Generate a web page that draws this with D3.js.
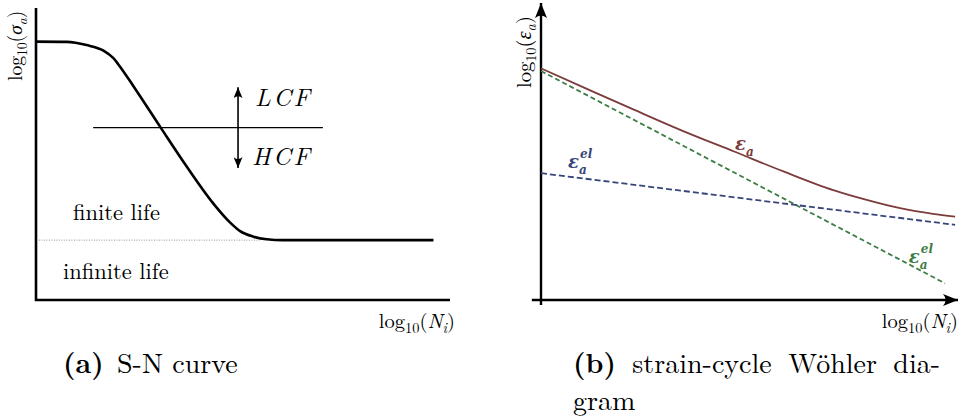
<!DOCTYPE html>
<html>
<head>
<meta charset="utf-8">
<script src="https://cdn.jsdelivr.net/npm/d3@7"></script>
</head>
<body style="margin:0;background:#fff">
<svg id="chart" width="960" height="418"></svg>
<script>
// ---- data (arbitrary log units) ----

// (a) S-N curve: log10(N) vs log10(sigma_a)
const snLogN = [0, 0.74, 1.22, 1.63, 1.87, 2.03, 2.35, 3.0, 3.64, 4.28, 4.69, 4.93, 5.25, 5.57, 5.97, 9.6];
const snLogS = [8.85, 8.84, 8.73, 8.54, 8.28, 7.99, 7.33, 5.93, 4.57, 3.31, 2.65, 2.36, 2.17, 2.08, 2.05, 2.05];
const enduranceLimit = 2.05;
const enduranceRange = [0.07, 5.4];
const lcfHcfLevel = 5.9;
const lcfHcfRange = [1.38, 6.93];
const arrowLogN = 4.88;
const arrowRange = [4.52, 7.29];

// (b) strain-cycle diagram: log10(N) vs log10(eps_a)
const totalLogN = [0, 1.02, 2.24, 3.44, 4.63, 5.83, 7.01, 7.81, 8.61, 9.4, 9.93];
const totalLogE = [7.8, 7.16, 6.4, 5.67, 5.0, 4.32, 3.7, 3.37, 3.09, 2.9, 2.81];
const greenLogN = [0, 9.69];
const greenLogE = [7.71, 0.56];
const blueLogN = [0, 9.93];
const blueLogE = [4.27, 2.53];

const colTotal = "#7d3c3c";
const colGreen = "#3d7d46";
const colBlue = "#37467a";

const svg = d3.select("#chart")
  .attr("font-family", "'Latin Modern Roman', 'CMU Serif', 'Liberation Serif', serif");

// arrow heads
const defs = svg.append("defs");
function arrowMarker(id, len, half) {
  defs.append("marker")
    .attr("id", id)
    .attr("markerUnits", "userSpaceOnUse")
    .attr("viewBox", `${-len} ${-half} ${len + 1} ${2 * half}`)
    .attr("refX", 0).attr("refY", 0)
    .attr("markerWidth", len + 1).attr("markerHeight", 2 * half)
    .attr("orient", "auto-start-reverse")
    .append("path")
    .attr("d", `M0,0 L${-len},${-half} Q${-len * 0.65},0 ${-len},${half} Z`)
    .attr("fill", "#000");
}
arrowMarker("bigArrow", 15, 6);
arrowMarker("smallArrow", 11, 4.5);

// math-ish text helper: pieces = [text, {it, sub}]
function mathText(g, pieces, size) {
  const t = g.append("text").attr("font-size", size);
  let shift = 0;
  pieces.forEach(p => {
    const o = p[1] || {};
    const target = o.sub ? size * 0.25 : 0;
    t.append("tspan")
      .attr("dy", target - shift)
      .attr("font-size", o.sub ? size * 0.7 : size)
      .attr("font-style", o.it ? "italic" : "normal")
      .text(p[0]);
    shift = target;
  });
  return t;
}

// ================= (a) S-N curve =================
const xA = d3.scaleLinear().domain([0, 10]).range([36, 450]);
const yA = d3.scaleLinear().domain([0, 10]).range([300, 8]);
const gA = svg.append("g");

gA.append("path")
  .attr("d", `M${xA(0)},${yA(10)}V${yA(0)}H${xA(10)}`)
  .attr("fill", "none").attr("stroke", "#000").attr("stroke-width", 2.6);

// endurance limit (dotted)
gA.append("line")
  .attr("x1", xA(enduranceRange[0])).attr("x2", xA(enduranceRange[1]))
  .attr("y1", yA(enduranceLimit)).attr("y2", yA(enduranceLimit))
  .attr("stroke", "#777").attr("stroke-width", 0.8).attr("stroke-dasharray", "1,1.5");

// LCF / HCF divider
gA.append("line")
  .attr("x1", xA(lcfHcfRange[0])).attr("x2", xA(lcfHcfRange[1]))
  .attr("y1", yA(lcfHcfLevel)).attr("y2", yA(lcfHcfLevel))
  .attr("stroke", "#000").attr("stroke-width", 1.2);

gA.append("line")
  .attr("x1", xA(arrowLogN)).attr("x2", xA(arrowLogN))
  .attr("y1", yA(arrowRange[0])).attr("y2", yA(arrowRange[1]))
  .attr("stroke", "#000").attr("stroke-width", 1.6)
  .attr("marker-start", "url(#smallArrow)")
  .attr("marker-end", "url(#smallArrow)");

// S-N curve
const snLine = d3.line()
  .x((d, i) => xA(snLogN[i]))
  .y(d => yA(d))
  .curve(d3.curveMonotoneX);
gA.append("path")
  .attr("d", snLine(snLogS))
  .attr("fill", "none").attr("stroke", "#000").attr("stroke-width", 2.6);

gA.append("text").attr("x", 255).attr("y", 106)
  .attr("font-size", 25).attr("font-style", "italic")
  .attr("letter-spacing", 2.5).text("LCF");
gA.append("text").attr("x", 252).attr("y", 165)
  .attr("font-size", 25).attr("font-style", "italic")
  .attr("letter-spacing", 2.5).text("HCF");
gA.append("text").attr("x", 73).attr("y", 220)
  .attr("font-size", 22.5).text("finite life");
gA.append("text").attr("x", 63).attr("y", 279)
  .attr("font-size", 22.5).text("infinite life");

mathText(gA, [["log"], ["10", {sub: 1}], ["("], ["N", {it: 1}], ["i", {it: 1, sub: 1}], [")"]], 20.5)
  .attr("x", 455).attr("y", 328).attr("text-anchor", "end");
mathText(gA.append("g").attr("transform", "translate(22,81) rotate(-90)"),
  [["log"], ["10", {sub: 1}], ["("], ["σ", {it: 1}], ["a", {it: 1, sub: 1}], [")"]], 19.5);

// ================= (b) strain-cycle =================
const xB = d3.scaleLinear().domain([0, 10]).range([541, 958]);
const yB = d3.scaleLinear().domain([0, 10]).range([300, 3]);
const gB = svg.append("g");

gB.append("line")
  .attr("x1", xB(-0.22)).attr("x2", xB(10)).attr("y1", yB(0)).attr("y2", yB(0))
  .attr("stroke", "#000").attr("stroke-width", 2.4).attr("marker-end", "url(#bigArrow)");
gB.append("line")
  .attr("x1", xB(0)).attr("x2", xB(0)).attr("y1", yB(-0.17)).attr("y2", yB(10))
  .attr("stroke", "#000").attr("stroke-width", 2.4).attr("marker-end", "url(#bigArrow)");

const line2 = (xs) => d3.line().x((d, i) => xB(xs[i])).y(d => yB(d));

gB.append("path")
  .attr("d", line2(greenLogN)(greenLogE))
  .attr("fill", "none").attr("stroke", colGreen).attr("stroke-width", 1.8)
  .attr("stroke-dasharray", "5,3");
gB.append("path")
  .attr("d", line2(blueLogN)(blueLogE))
  .attr("fill", "none").attr("stroke", colBlue).attr("stroke-width", 1.8)
  .attr("stroke-dasharray", "6,3");
gB.append("path")
  .attr("d", line2(totalLogN).curve(d3.curveMonotoneX)(totalLogE))
  .attr("fill", "none").attr("stroke", colTotal).attr("stroke-width", 1.8);

// epsilon labels: one text, sub/sup as tspans (bold math look)
function epsLabel(x, y, col, sup) {
  const t = gB.append("text").attr("transform", `translate(${x},${y})`)
    .attr("font-family", "'DejaVu Serif', serif")
    .attr("font-weight", "bold").attr("font-style", "italic")
    .attr("fill", col).attr("font-size", 18);
  t.append("tspan").attr("x", 0).attr("y", 0).text("ε");
  if (sup) {
    t.append("tspan").attr("x", 12).attr("y", -10).attr("font-size", 12).text(sup);
  }
  t.append("tspan").attr("x", 11).attr("y", 6).attr("font-size", 12).text("a");
}
epsLabel(xB(4.65), yB(4.98) - 2, colTotal, null);
epsLabel(xB(0.65), yB(4.38) - 2, colBlue, "el");
epsLabel(xB(8.82), yB(1.25), colGreen, "el");

mathText(gB, [["log"], ["10", {sub: 1}], ["("], ["N", {it: 1}], ["i", {it: 1, sub: 1}], [")"]], 20.5)
  .attr("x", 958).attr("y", 328).attr("text-anchor", "end");
mathText(gB.append("g").attr("transform", "translate(531,88) rotate(-90)"),
  [["log"], ["10", {sub: 1}], ["("], ["ε", {it: 1}], ["a", {it: 1, sub: 1}], [")"]], 20.5);

// ================= captions =================
const capA = svg.append("text").attr("x", 63).attr("y", 373).attr("font-size", 28);
capA.append("tspan").attr("font-weight", "bold").text("(a)");
capA.append("tspan").attr("dx", 4).text(" S-N curve");

// first line justified to the column width
const capB = svg.append("text").attr("x", 573).attr("y", 373).attr("font-size", 28);
capB.append("tspan").attr("font-weight", "bold").text("(b)");
capB.append("tspan").text(" strain-cycle Wöhler dia-");
const natural = capB.node().getComputedTextLength();
capB.attr("word-spacing", Math.max(0, (367 - natural) / 3));
svg.append("text").attr("x", 573).attr("y", 410).attr("font-size", 28).text("gram");
</script>
</body>
</html>
